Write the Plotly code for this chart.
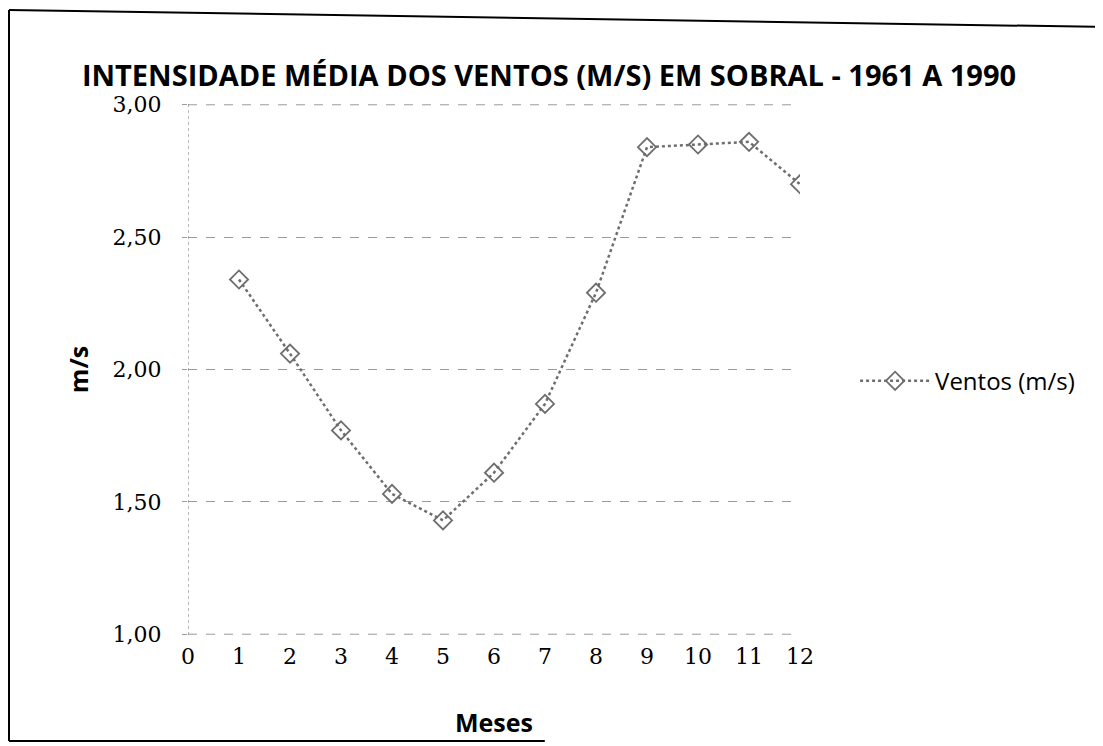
import plotly.graph_objects as go

meses = [1, 2, 3, 4, 5, 6, 7, 8, 9, 10, 11, 12]
ventos = [2.34, 2.06, 1.77, 1.53, 1.43, 1.61, 1.87, 2.29, 2.84, 2.85, 2.86, 2.70]
x_ticks = list(range(0, 13))
y_ticks = [1.0, 1.5, 2.0, 2.5, 3.0]

fig = go.Figure()
fig.add_trace(go.Scatter(
    x=meses, y=ventos, mode="lines+markers", name="Ventos (m/s)",
    line=dict(color="#6e6e6e", width=2.5, dash="dot"),
    marker=dict(symbol="diamond-open", size=14, color="#6e6e6e", line=dict(width=1.8)),
))

fig.update_layout(
    width=1103, height=746,
    paper_bgcolor="white", plot_bgcolor="white",
    margin=dict(l=180, r=311, t=96, b=119),
    separators=", ",
    title=dict(text="<b>INTENSIDADE MÉDIA DOS VENTOS (M/S) EM SOBRAL - 1961 A 1990</b>",
               font=dict(family="Open Sans", size=29, color="black"),
               x=0.067, xanchor="left", y=0.909, yanchor="middle"),
    showlegend=True,
    legend=dict(x=1.09, y=0.478, xanchor="left", yanchor="middle", itemwidth=70,
                font=dict(family="Open Sans", size=24, color="black"),
                bgcolor="rgba(0,0,0,0)"),
    font=dict(family="DejaVu Serif", color="black"),
)
fig.update_xaxes(range=[0, 12], tickvals=x_ticks, showgrid=False, zeroline=False,
                 showline=False, ticks="", tickfont=dict(family="DejaVu Serif", size=22),
                 ticklabelstandoff=6,
                 title=dict(text="<b>Meses</b>", font=dict(family="Open Sans", size=25), standoff=46))
fig.update_yaxes(range=[0.997, 3.003], tickvals=y_ticks, tickformat=".2f",
                 showgrid=True, gridcolor="#9a9a9a", griddash="dash", gridwidth=1,
                 zeroline=False, showline=False,
                 ticks="outside", ticklen=5, tickcolor="#9a9a9a",
                 tickfont=dict(family="DejaVu Serif", size=22),
                 ticklabelstandoff=16,
                 title=dict(text="<b>m/s</b>", font=dict(family="Open Sans", size=25), standoff=16))

# edge gridlines (plotly skips them at the range boundary)
for yv in (y_ticks[0], y_ticks[-1]):
    fig.add_shape(type="line", xref="paper", yref="y", x0=0, x1=1, y0=yv, y1=yv,
                  line=dict(color="#9a9a9a", width=1, dash="dash"))

# dotted vertical axis line
fig.add_shape(type="line", xref="x", yref="paper", x0=0, x1=0, y0=0, y1=1,
              line=dict(color="#8a8a8a", width=1.2, dash="dot"))

# outer border of the scanned chart area
fig.add_shape(type="line", xref="paper", yref="paper", x0=-0.2925, x1=1.5, y0=1.177, y1=1.145,
              line=dict(color="black", width=2))
fig.add_shape(type="line", xref="paper", yref="paper", x0=-0.2925, x1=-0.2925, y0=1.177, y1=-0.1996,
              line=dict(color="black", width=2))
fig.add_shape(type="line", xref="paper", yref="paper", x0=-0.2925, x1=0.583, y0=-0.1996, y1=-0.1996,
              line=dict(color="black", width=2))

fig.write_html("out.html")
